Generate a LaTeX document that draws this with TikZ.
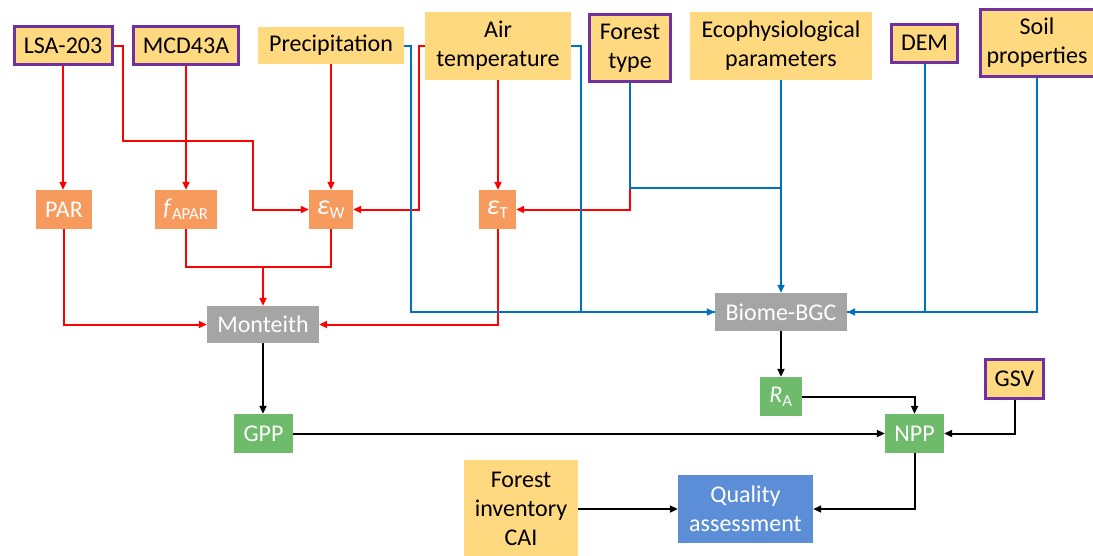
\documentclass[tikz,border=0pt]{standalone}
\usepackage{fontspec}
\setmainfont{Carlito}
\usepackage{xcolor}
\definecolor{inyellow}{HTML}{FFD97F}
\definecolor{srcpurple}{HTML}{7030A0}
\definecolor{paramorange}{HTML}{F79A5E}
\definecolor{modelgray}{HTML}{A5A5A5}
\definecolor{outgreen}{HTML}{6DBB6B}
\definecolor{qablue}{HTML}{5B8ED6}
\definecolor{flowred}{HTML}{FF0000}
\definecolor{flowblue}{HTML}{0070C0}
\usetikzlibrary{arrows.meta}
\newcommand{\effsym}{{\fontsize{28}{29}\selectfont\textit{ε}}}

\begin{document}
\begin{tikzpicture}[x=1pt, y=-1pt, font=\fontsize{24}{29}\selectfont,
  box/.style={rectangle, inner sep=0pt, align=center},
  inbox/.style={box, fill=inyellow},
  srcbox/.style={box, fill=inyellow, draw=srcpurple, line width=3pt},
  parbox/.style={box, fill=paramorange, text=white, minimum height=39pt},
  modbox/.style={box, fill=modelgray, text=white},
  outbox/.style={box, fill=outgreen, text=white, minimum height=39pt},
  qabox/.style={box, fill=qablue, text=white},
  flow/.style={line width=2pt, -{Triangle[length=8pt, width=7pt]}},
  redarr/.style={flow, draw=flowred},
  redline/.style={redarr, -},
  bluearr/.style={flow, draw=flowblue},
  blueline/.style={bluearr, -},
  blkarr/.style={flow, draw=black}]
  \useasboundingbox (0,0) rectangle (1093,555);

  % inputs
  \node[srcbox, minimum width=98pt, minimum height=38pt] (lsa) at (63,45.5) {LSA-203};
  \node[srcbox, minimum width=105pt, minimum height=38pt] (mcd) at (186,45.5) {MCD43A};
  \node[inbox, minimum width=146pt, minimum height=37pt] (precip) at (331,45.5) {Precipitation};
  \node[inbox, minimum width=146pt, minimum height=68pt] (airt) at (498,46) {Air\\temperature};
  \node[srcbox, minimum width=81pt, minimum height=67pt] (ftype) at (630,48) {Forest\\type};
  \node[inbox, minimum width=182pt, minimum height=68pt] (eco) at (781,45.5) {Ecophysiological\\parameters};
  \node[srcbox, minimum width=66pt, minimum height=38pt] (dem) at (924.5,43) {DEM};
  \node[srcbox, minimum width=114pt, minimum height=67pt] (soil) at (1037,43) {Soil\\properties};

  % light use efficiency terms
  \node[parbox, minimum width=56pt] (par) at (64,209.5) {PAR};
  \node[parbox, minimum width=62pt] (fapar) at (186,209.5) {\textit{f}\textsubscript{APAR}};
  \node[parbox, minimum width=44pt] (epsw) at (331,209.5) {\effsym\textsubscript{W}};
  \node[parbox, minimum width=37pt] (epst) at (497.5,209.5) {\effsym\textsubscript{T}};

  % models and outputs
  \node[modbox, minimum width=112pt, minimum height=37pt] (monteith) at (263,324.5) {Monteith};
  \node[modbox, minimum width=132pt, minimum height=38pt] (biome) at (781,312) {Biome-BGC};
  \node[outbox, minimum width=59pt] (gpp) at (263.5,433.5) {GPP};
  \node[outbox, minimum width=42pt] (ra) at (781,396.5) {\textit{R}\textsubscript{A}};
  \node[outbox, minimum width=59pt] (npp) at (914.5,433.5) {NPP};
  \node[srcbox, minimum width=58pt, minimum height=39pt] (gsv) at (1014.5,379) {GSV};
  \node[inbox, minimum width=114pt, minimum height=98pt] (finv) at (521,509) {Forest\\inventory\\CAI};
  \node[qabox, minimum width=135pt, minimum height=68pt] (quality) at (745.5,509) {Quality\\assessment};

  \coordinate (lsabend) at (123,141);
  \coordinate (ftjoin) at (630,188);
  \coordinate (epsjoin) at (263,267);

  % Monteith branch
  \draw[redarr] (lsa.south) -- (lsa.south |- par.north);
  \draw[redarr] (lsa.east) -| (lsabend) -| ([xshift=-56pt]epsw.west) -- (epsw.west);
  \draw[redarr] (mcd.south) -- (fapar.north);
  \draw[redarr] (precip.south) -- (epsw.north);
  \draw[redarr] (airt.west) -- ++(-6,0) |- (epsw.east);
  \draw[redarr] (airt.south) -- (airt.south |- epst.north);
  \draw[redarr] (ftjoin) |- (epst.east);
  \draw[redarr] (par.south) |- (monteith.west);
  \draw[redline] (fapar.south) |- (epsjoin) -| (epsw.south);
  \draw[redarr] (epsjoin) -- (monteith.north);
  \draw[redarr] (epst.south) |- (monteith.east);

  % Biome-BGC branch
  \draw[bluearr] (precip.east) -- ++(7,0) |- (biome.west);
  \draw[blueline] (airt.east) -- ++(10,0) |- (biome.west);
  \draw[blueline] (ftype.south) -- (ftjoin) -| (eco.south);
  \draw[bluearr] (eco.south) -- (biome.north);
  \draw[blueline] (dem.south) |- (biome.east);
  \draw[bluearr] (soil.south) |- (biome.east);

  % outputs
  \draw[blkarr] (monteith.south) -- (monteith.south |- gpp.north);
  \draw[blkarr] (biome.south) -- (ra.north);
  \draw[blkarr] (gpp.east) -- (npp.west);
  \draw[blkarr] (ra.east) -| (npp.north);
  \draw[blkarr] (gsv.south) |- (npp.east);
  \draw[blkarr] (npp.south) |- (quality.east);
  \draw[blkarr] (finv.east) -- (quality.west);
\end{tikzpicture}
\end{document}
